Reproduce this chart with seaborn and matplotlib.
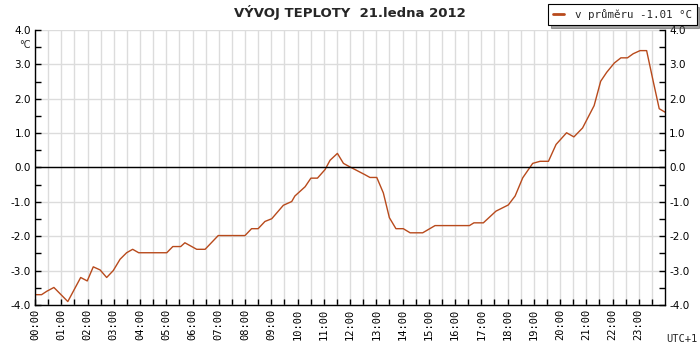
import numpy as np
import pandas as pd
import matplotlib
matplotlib.use('Agg')
import matplotlib.pyplot as plt
import seaborn as sns

# data (hour of day, temperature in °C)
hours = [0.0, 0.25, 0.45, 0.72, 1.25, 1.74, 1.99, 2.22, 2.48, 2.73, 2.98, 3.24, 3.49, 3.72,
         3.95, 5.02, 5.25, 5.55, 5.71, 6.16, 6.48, 6.98, 8.0, 8.25, 8.5, 8.76, 9.02, 9.46,
         9.78, 9.9, 10.29, 10.51, 10.76, 11.05, 11.24, 11.52, 11.75, 11.94, 12.57, 12.76,
         13.02, 13.27, 13.5, 13.75, 14.03, 14.29, 14.77, 15.24, 16.55, 16.72, 17.08, 17.56,
         18.03, 18.29, 18.58, 18.96, 19.24, 19.56, 19.85, 20.25, 20.53, 20.86, 21.3, 21.55,
         21.78, 22.07, 22.32, 22.57, 22.79, 23.05, 23.3, 23.55, 23.78, 24.0]
temps = [-3.70, -3.70, -3.60, -3.49, -3.90, -3.20, -3.30, -2.89, -2.98, -3.20, -3.00, -2.67,
         -2.48, -2.38, -2.48, -2.48, -2.30, -2.30, -2.19, -2.38, -2.38, -1.98, -1.98, -1.78,
         -1.78, -1.57, -1.49, -1.10, -0.99, -0.83, -0.56, -0.31, -0.31, -0.06, 0.21, 0.41,
         0.12, 0.04, -0.21, -0.29, -0.29, -0.74, -1.46, -1.78, -1.78, -1.90, -1.90, -1.69,
         -1.69, -1.61, -1.61, -1.27, -1.09, -0.83, -0.30, 0.12, 0.18, 0.18, 0.67, 1.01,
         0.89, 1.15, 1.80, 2.51, 2.77, 3.04, 3.19, 3.19, 3.31, 3.40, 3.40, 2.51, 1.71, 1.61]
hour_labels = ['%02d:00' % h for h in range(24)]
y_ticks = [-4.0, -3.0, -2.0, -1.0, 0.0, 1.0, 2.0, 3.0, 4.0]
avg_text = 'v průměru -1.01 °C'
title = 'VÝVOJ TEPLOTY  21.ledna 2012'

df = pd.DataFrame({'hour': hours, 'temp': temps})

sns.set_style('white')
plt.rcParams['font.family'] = ['DejaVu Sans']

fig = plt.figure(figsize=(7, 3.5), dpi=100)
ax = fig.add_axes([0.05, 0.1286, 0.9, 0.7857])

sns.lineplot(data=df, x='hour', y='temp', ax=ax, color='#b84a1c', linewidth=1.0, label=avg_text)
ax.axhline(0, color='black', linewidth=1.0, zorder=3)

ax.set_xlim(0, 24)
ax.set_ylim(-4, 4)
ax.set_xticks(range(24))
ax.set_xticks(np.arange(0.5, 24, 1), minor=True)
ax.set_xticklabels(hour_labels, rotation=90, family='DejaVu Sans Mono', fontsize=7.5)
ax.set_yticks(y_ticks)
ax.set_yticks(np.arange(-3.5, 4, 1), minor=True)
ax.set_yticklabels(['%.1f' % v for v in y_ticks], fontsize=7.5)
ax.tick_params(which='both', direction='in', length=4, width=1, colors='black',
               left=True, right=True, bottom=True, labelright=True, labelleft=True, pad=3)
# vertical grid every half hour, horizontal grid only at whole degrees
ax.grid(True, axis='x', which='both', color='#dcdcdc', linewidth=1)
ax.grid(True, axis='y', which='major', color='#dcdcdc', linewidth=1)
ax.set_axisbelow(True)
for s in ['left', 'right', 'bottom']:
    ax.spines[s].set_color('black')
    ax.spines[s].set_linewidth(1)
ax.spines['top'].set_visible(False)
ax.set_xlabel('')
ax.set_ylabel('')

fig.text(0.5, 0.965, title, ha='center', va='center', fontsize=9.5, fontweight='bold')
fig.text(0.028, 0.87, '°C', fontsize=7, ha='left', va='center')
fig.text(0.997, 0.03, 'UTC+1', fontsize=7.5, ha='right', va='center', family='DejaVu Sans Mono')

ax.get_legend().remove()
leg = fig.legend(loc='upper right', bbox_to_anchor=(1.003, 1.003), frameon=True, shadow=True,
                 fancybox=False, handlelength=1.0, borderpad=0.45, handletextpad=1.0,
                 prop={'family': 'DejaVu Sans Mono', 'size': 7.8})
leg.get_frame().set_edgecolor('black')
leg.get_frame().set_linewidth(0.8)
leg.get_lines()[0].set_linewidth(2)

fig.savefig('out.png', dpi=100)
